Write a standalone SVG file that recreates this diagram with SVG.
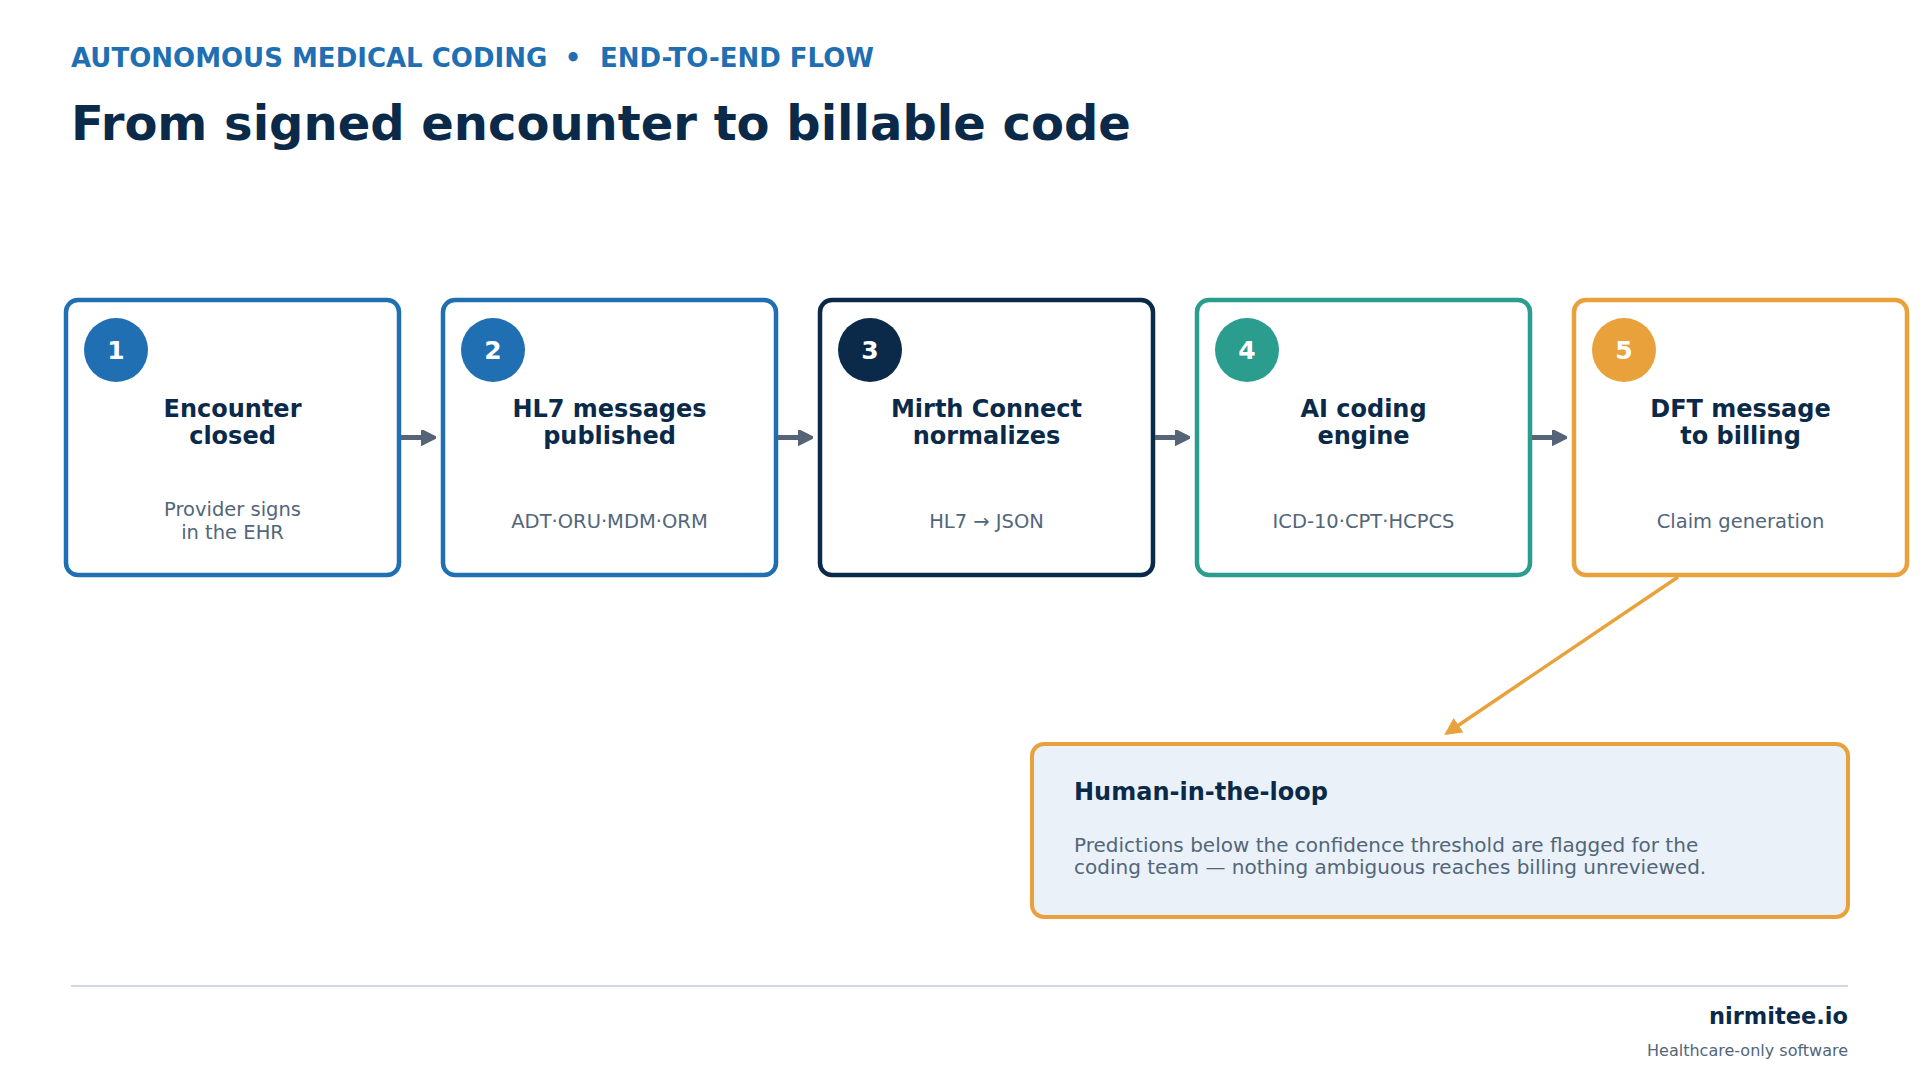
<svg xmlns="http://www.w3.org/2000/svg" width="1920" height="1080" viewBox="0 0 1920 1080">
<style>
text{font-family:"DejaVu Sans","Noto Sans",sans-serif}
.box{fill:#fff;stroke-width:4.5}
.ttl{font-weight:bold;font-size:24px;fill:#0b2a4a;text-anchor:middle}
.sub{font-size:19.5px;fill:#52667a;text-anchor:middle}
.num{font-weight:bold;font-size:25px;fill:#fff;text-anchor:middle}
.conn{stroke:#556476;stroke-width:5;fill:none}
</style>
<defs>
<marker id="ah" viewBox="0 0 10 10" refX="8" refY="5" markerWidth="3" markerHeight="3.2" orient="auto" markerUnits="strokeWidth"><path d="M0,0 L10,5 L0,10 z" fill="#556476" stroke="#556476" stroke-width="1.5" stroke-linejoin="round"/></marker>
<marker id="ah2" viewBox="0 0 10 10" refX="8" refY="5" markerWidth="5" markerHeight="5" orient="auto" markerUnits="strokeWidth"><path d="M0,0 L10,5 L0,10 z" fill="#e9a23b"/></marker>
</defs>
<rect width="1920" height="1080" fill="#fff"/>
<text y="67" font-size="26" font-weight="bold" fill="#1f6fb2"><tspan x="71">AUTONOMOUS MEDICAL CODING</tspan><tspan x="573" text-anchor="middle">•</tspan><tspan x="600">END-TO-END FLOW</tspan></text>
<text x="71" y="140" font-size="48" font-weight="bold" fill="#0b2a4a">From signed encounter to billable code</text>

<g id="node1">
<rect class="box" x="66" y="300" width="333" height="275" rx="12" stroke="#1f6fb2"/>
<circle cx="116" cy="350" r="32" fill="#1f6fb2"/>
<text class="num" x="116" y="359">1</text>
<text class="ttl" x="232.5" y="417">Encounter</text>
<text class="ttl" x="232.5" y="444">closed</text>
<text class="sub" x="232.5" y="516">Provider signs</text>
<text class="sub" x="232.5" y="539">in the EHR</text>
</g>
<g id="node2">
<rect class="box" x="443" y="300" width="333" height="275" rx="12" stroke="#1f6fb2"/>
<circle cx="493" cy="350" r="32" fill="#1f6fb2"/>
<text class="num" x="493" y="359">2</text>
<text class="ttl" x="609.5" y="417">HL7 messages</text>
<text class="ttl" x="609.5" y="444">published</text>
<text class="sub" x="609.5" y="528">ADT·ORU·MDM·ORM</text>
</g>
<g id="node3">
<rect class="box" x="820" y="300" width="333" height="275" rx="12" stroke="#0b2a4a"/>
<circle cx="870" cy="350" r="32" fill="#0b2a4a"/>
<text class="num" x="870" y="359">3</text>
<text class="ttl" x="986.5" y="417">Mirth Connect</text>
<text class="ttl" x="986.5" y="444">normalizes</text>
<text class="sub" x="986.5" y="528">HL7 → JSON</text>
</g>
<g id="node4">
<rect class="box" x="1197" y="300" width="333" height="275" rx="12" stroke="#2a9d8f"/>
<circle cx="1247" cy="350" r="32" fill="#2a9d8f"/>
<text class="num" x="1247" y="359">4</text>
<text class="ttl" x="1363.5" y="417">AI coding</text>
<text class="ttl" x="1363.5" y="444">engine</text>
<text class="sub" x="1363.5" y="528">ICD-10·CPT·HCPCS</text>
</g>
<g id="node5">
<rect class="box" x="1574" y="300" width="333" height="275" rx="12" stroke="#e9a23b"/>
<circle cx="1624" cy="350" r="32" fill="#e9a23b"/>
<text class="num" x="1624" y="359">5</text>
<text class="ttl" x="1740.5" y="417">DFT message</text>
<text class="ttl" x="1740.5" y="444">to billing</text>
<text class="sub" x="1740.5" y="528">Claim generation</text>
</g>
<g id="node6">
<rect x="1032" y="744" width="816" height="173" rx="12" fill="#eaf1f8" stroke="#e9a23b" stroke-width="4"/>
<text x="1074" y="800" font-size="24" font-weight="bold" fill="#0b2a4a">Human-in-the-loop</text>
<text x="1074" y="852" font-size="20" fill="#52667a">Predictions below the confidence threshold are flagged for the</text>
<text x="1074" y="874" font-size="20" fill="#52667a">coding team — nothing ambiguous reaches billing unreviewed.</text>
</g>
<g id="connectors">
<line class="conn" x1="401" y1="437.5" x2="433" y2="437.5" marker-end="url(#ah)"/>
<line class="conn" x1="778" y1="437.5" x2="810" y2="437.5" marker-end="url(#ah)"/>
<line class="conn" x1="1155" y1="437.5" x2="1187" y2="437.5" marker-end="url(#ah)"/>
<line class="conn" x1="1532" y1="437.5" x2="1564" y2="437.5" marker-end="url(#ah)"/>
<line x1="1678" y1="577" x2="1447" y2="733" stroke="#e9a23b" stroke-width="3.5" marker-end="url(#ah2)"/>
</g>
<line x1="71" y1="986" x2="1848" y2="986" stroke="#cfd8e3" stroke-width="2"/>
<text x="1848" y="1024" font-size="22.5" font-weight="bold" fill="#0b2a4a" text-anchor="end">nirmitee.io</text>
<text x="1848" y="1056" font-size="16" fill="#52667a" text-anchor="end">Healthcare-only software</text>
</svg>
